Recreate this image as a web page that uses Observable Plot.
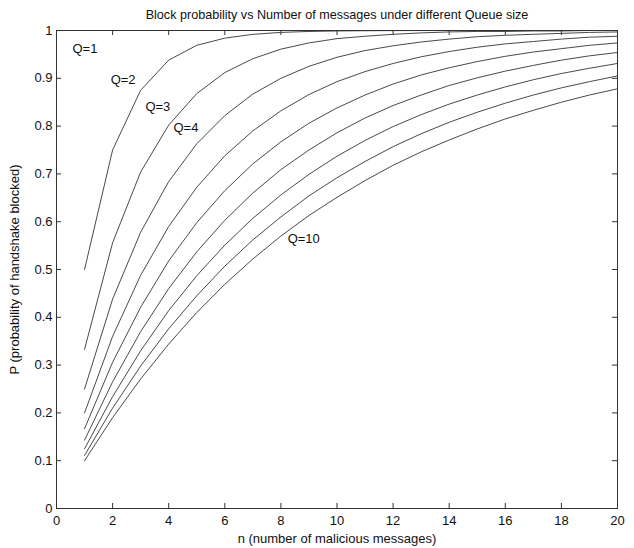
<!DOCTYPE html>
<html>
<head>
<meta charset="utf-8">
<script src="https://cdn.jsdelivr.net/npm/d3@7"></script>
<script src="https://cdn.jsdelivr.net/npm/@observablehq/plot@0.6"></script>
<style>
  html, body { margin: 0; padding: 0; background: #fff; }
  svg { display: block; }
</style>
</head>
<body>
<div id="chart"></div>
<script>
const titleText = "Block probability vs Number of messages under different Queue size";
const xLabel = "n (number of malicious messages)";
const yLabel = "P (probability of handshake blocked)";

const nValues = [1,2,3,4,5,6,7,8,9,10,11,12,13,14,15,16,17,18,19,20];
const curve1 = [0.5,0.75,0.875,0.938,0.969,0.984,0.992,0.996,0.998,0.999,0.9995,0.9998,0.9999,0.9999,1,1,1,1,1,1];
const curve2 = [0.333,0.556,0.704,0.802,0.868,0.912,0.941,0.961,0.974,0.983,0.988,0.992,0.995,0.997,0.998,0.998,0.999,0.999,1,1];
const curve3 = [0.25,0.438,0.578,0.684,0.763,0.822,0.867,0.900,0.925,0.944,0.958,0.968,0.976,0.982,0.987,0.990,0.992,0.994,0.996,0.997];
const curve4 = [0.2,0.36,0.488,0.590,0.672,0.738,0.790,0.832,0.866,0.893,0.914,0.931,0.945,0.956,0.965,0.972,0.977,0.982,0.986,0.988];
const curve5 = [0.167,0.306,0.421,0.518,0.598,0.665,0.721,0.767,0.806,0.838,0.865,0.888,0.907,0.922,0.935,0.946,0.955,0.962,0.969,0.974];
const curve6 = [0.143,0.265,0.370,0.460,0.537,0.603,0.660,0.709,0.750,0.786,0.817,0.843,0.865,0.885,0.901,0.915,0.927,0.938,0.947,0.954];
const curve7 = [0.125,0.234,0.330,0.414,0.487,0.551,0.607,0.656,0.699,0.737,0.770,0.799,0.824,0.846,0.865,0.882,0.897,0.910,0.921,0.931];
const curve8 = [0.111,0.210,0.298,0.376,0.445,0.507,0.562,0.610,0.654,0.692,0.726,0.757,0.784,0.808,0.829,0.848,0.865,0.880,0.893,0.905];
const curve9 = [0.1,0.19,0.271,0.344,0.410,0.469,0.522,0.570,0.613,0.651,0.686,0.718,0.746,0.771,0.794,0.815,0.833,0.850,0.865,0.878];
const curves = [curve1,curve2,curve3,curve4,curve5,curve6,curve7,curve8,curve9];

const labelTexts = ["Q=1","Q=2","Q=3","Q=4","Q=10"];
const labelX = [0.57,1.93,3.17,4.17,8.24];
const labelY = [0.962,0.897,0.841,0.797,0.565];

const xTicks = [0,2,4,6,8,10,12,14,16,18,20];
const yTicks = [0,0.1,0.2,0.3,0.4,0.5,0.6,0.7,0.8,0.9,1];

const rows = [];
curves.forEach((c, i) => c.forEach((p, j) => rows.push({series: i + 1, n: nValues[j], p})));
const labels = labelTexts.map((t, i) => ({t, x: labelX[i], y: labelY[i]}));

const font = "Liberation Sans, Arial, sans-serif";
const ink = "#333";
const fmt = d3.format("~g");

const chart = Plot.plot({
  width: 634,
  height: 548,
  marginLeft: 56,
  marginRight: 17,
  marginTop: 30,
  marginBottom: 40,
  style: {fontFamily: font, fontSize: "13px", color: "#111", background: "#fff"},
  x: {domain: [0, 20]},
  y: {domain: [0, 1]},
  marks: [
    Plot.axisX({ticks: xTicks, tickFormat: fmt, tickSize: 0, tickPadding: 7, fontSize: 13,
      label: xLabel, labelAnchor: "center", labelArrow: "none", labelOffset: 34}),
    Plot.axisY({ticks: yTicks, tickFormat: fmt, tickSize: 0, tickPadding: 4, fontSize: 13,
      label: yLabel, labelAnchor: "center", labelArrow: "none", labelOffset: 47}),
    Plot.ruleX(xTicks, {x: d => d, y1: 0, y2: 0.0105, stroke: ink}),
    Plot.ruleX(xTicks, {x: d => d, y1: 1, y2: 0.9895, stroke: ink}),
    Plot.ruleY(yTicks, {y: d => d, x1: 0, x2: 0.18, stroke: ink}),
    Plot.ruleY(yTicks, {y: d => d, x1: 20, x2: 19.82, stroke: ink}),
    Plot.line(rows, {x: "n", y: "p", z: "series", stroke: "#4a4a4a", strokeWidth: 1, clip: true}),
    Plot.frame({stroke: ink}),
    Plot.text(labels, {x: "x", y: "y", text: "t", textAnchor: "start", fontSize: 13, fill: "#111"}),
    Plot.text([titleText], {frameAnchor: "top", dy: -20, fontSize: 12.6, fill: "#111"})
  ]
});
document.getElementById("chart").append(chart);
</script>
</body>
</html>
